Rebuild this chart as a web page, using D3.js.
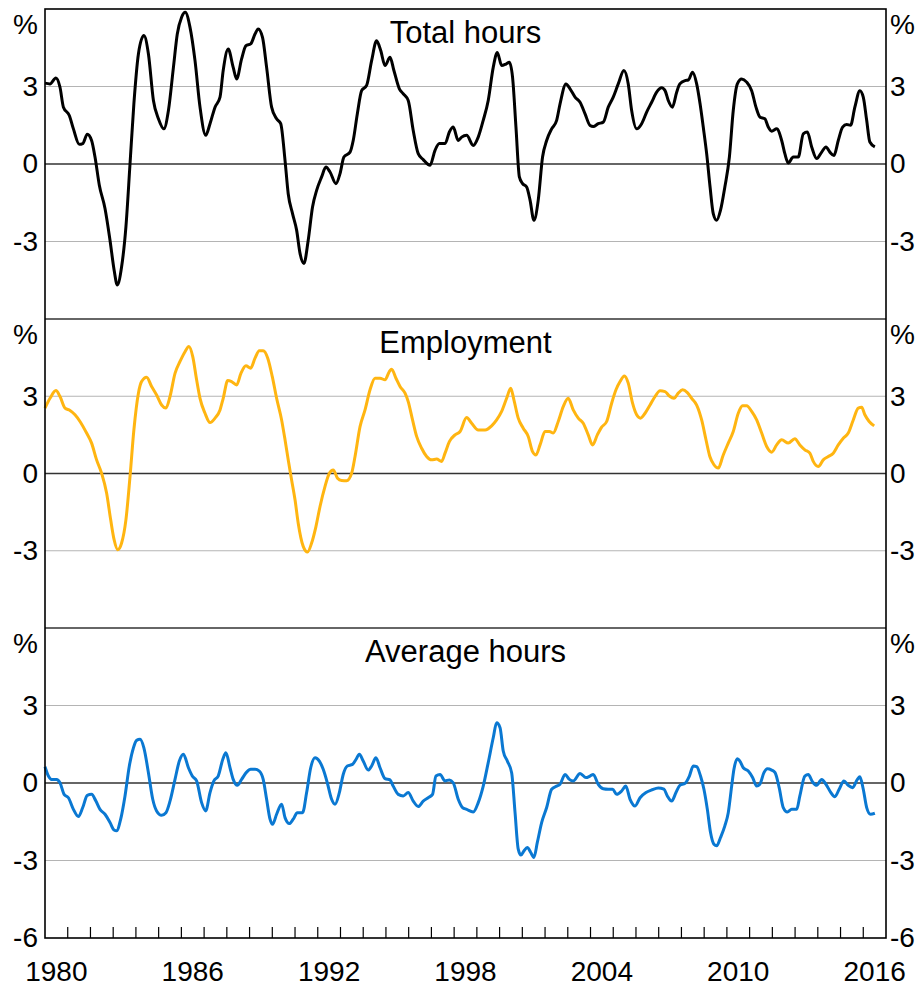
<!DOCTYPE html>
<html>
<head>
<meta charset="utf-8">
<script src="https://cdn.jsdelivr.net/npm/d3@7"></script>
<style>
  html, body { margin: 0; padding: 0; background: #fff; }
  svg { display: block; font-family: "Liberation Sans", Arial, sans-serif; }
</style>
</head>
<body>
<svg id="chart" width="922" height="987"></svg>
<script>
// Year-ended growth, per cent — [decimal year, value]
const totalHours = [
  [1980.00,3.13],[1980.22,3.10],[1980.48,3.33],[1980.66,2.97],[1980.81,2.20],[1981.07,1.88],[1981.25,1.36],
  [1981.51,0.76],[1981.66,0.79],[1981.86,1.15],[1982.05,0.91],[1982.20,0.27],[1982.39,-0.82],[1982.64,-1.72],
  [1982.86,-2.95],[1983.04,-4.10],[1983.18,-4.68],[1983.37,-3.98],[1983.56,-2.43],[1983.74,0.00],[1983.91,2.33],
  [1984.11,4.26],[1984.35,4.97],[1984.55,4.26],[1984.77,2.46],[1984.99,1.75],[1985.23,1.36],[1985.43,2.07],
  [1985.65,3.74],[1985.82,5.03],[1986.01,5.68],[1986.17,5.87],[1986.38,5.29],[1986.60,4.00],[1986.82,2.20],
  [1987.07,1.11],[1987.26,1.56],[1987.48,2.20],[1987.70,2.59],[1987.84,3.62],[1988.06,4.45],[1988.28,3.74],
  [1988.43,3.29],[1988.65,4.07],[1988.84,4.58],[1989.05,4.65],[1989.24,5.03],[1989.38,5.23],[1989.57,4.90],
  [1989.75,3.74],[1989.97,2.20],[1990.19,1.75],[1990.37,1.56],[1990.56,0.14],[1990.70,-1.15],[1990.89,-1.92],
  [1991.07,-2.56],[1991.22,-3.46],[1991.39,-3.85],[1991.58,-2.95],[1991.77,-1.66],[1991.95,-1.02],[1992.17,-0.50],
  [1992.36,-0.12],[1992.54,-0.31],[1992.80,-0.76],[1992.98,-0.37],[1993.15,0.27],[1993.42,0.46],[1993.56,0.91],
  [1993.74,1.94],[1993.93,2.84],[1994.15,3.04],[1994.37,4.00],[1994.59,4.77],[1994.77,4.39],[1994.96,3.81],
  [1995.18,4.13],[1995.35,3.62],[1995.59,2.91],[1995.76,2.72],[1995.98,2.46],[1996.20,1.30],[1996.42,0.40],
  [1996.64,0.17],[1996.94,-0.05],[1997.16,0.53],[1997.35,0.79],[1997.60,0.79],[1997.79,1.24],[1997.96,1.43],
  [1998.18,0.91],[1998.33,1.04],[1998.55,1.11],[1998.84,0.72],[1999.06,1.04],[1999.28,1.69],[1999.50,2.46],
  [1999.72,3.74],[1999.90,4.32],[2000.09,3.81],[2000.28,3.87],[2000.43,3.94],[2000.57,3.36],[2000.72,1.43],
  [2000.87,-0.50],[2001.01,-0.76],[2001.19,-0.89],[2001.34,-1.40],[2001.51,-2.18],[2001.70,-1.40],[2001.89,0.27],
  [2002.07,0.91],[2002.29,1.36],[2002.51,1.69],[2002.66,2.33],[2002.92,3.10],[2003.10,2.91],[2003.32,2.59],
  [2003.54,2.39],[2003.76,1.94],[2003.98,1.49],[2004.12,1.45],[2004.34,1.56],[2004.56,1.62],[2004.78,2.20],
  [2005.00,2.59],[2005.22,3.10],[2005.47,3.62],[2005.66,3.10],[2005.81,2.07],[2006.03,1.36],[2006.25,1.56],
  [2006.47,2.01],[2006.69,2.39],[2006.91,2.78],[2007.13,2.95],[2007.28,2.84],[2007.42,2.46],[2007.60,2.20],
  [2007.79,2.78],[2007.93,3.10],[2008.16,3.23],[2008.30,3.25],[2008.49,3.55],[2008.67,3.10],[2008.82,2.33],
  [2008.96,1.43],[2009.11,0.40],[2009.26,-0.89],[2009.40,-1.92],[2009.55,-2.18],[2009.72,-1.79],[2009.91,-0.89],
  [2010.11,0.27],[2010.28,2.07],[2010.46,3.10],[2010.65,3.29],[2010.87,3.17],[2011.09,2.84],[2011.28,2.20],
  [2011.46,1.81],[2011.67,1.75],[2011.82,1.43],[2011.97,1.27],[2012.19,1.36],[2012.41,0.91],[2012.55,0.40],
  [2012.70,0.04],[2012.92,0.27],[2013.14,0.27],[2013.36,1.17],[2013.54,1.24],[2013.73,0.66],[2013.95,0.21],
  [2014.17,0.46],[2014.36,0.66],[2014.53,0.46],[2014.71,0.33],[2014.90,0.91],[2015.09,1.43],[2015.27,1.53],
  [2015.44,1.50],[2015.63,2.20],[2015.85,2.84],[2016.00,2.59],[2016.15,1.69],[2016.29,0.85],[2016.51,0.66]
];

const employment = [
  [1980.00,2.54],[1980.22,2.92],[1980.48,3.22],[1980.66,2.99],[1980.88,2.54],[1981.10,2.45],[1981.32,2.28],
  [1981.54,2.02],[1981.83,1.57],[1982.05,1.18],[1982.27,0.53],[1982.49,0.01],[1982.71,-0.76],[1982.89,-1.80],
  [1983.04,-2.57],[1983.20,-2.96],[1983.37,-2.70],[1983.56,-1.80],[1983.74,-0.12],[1983.91,1.69],[1984.11,3.12],
  [1984.25,3.57],[1984.47,3.74],[1984.69,3.38],[1984.91,3.05],[1985.13,2.66],[1985.32,2.54],[1985.50,2.99],
  [1985.72,3.89],[1985.94,4.35],[1986.16,4.73],[1986.33,4.93],[1986.50,4.54],[1986.67,3.64],[1986.82,2.92],
  [1987.04,2.34],[1987.26,1.98],[1987.48,2.15],[1987.70,2.47],[1987.84,2.92],[1988.04,3.61],[1988.21,3.57],
  [1988.43,3.44],[1988.62,3.89],[1988.84,4.18],[1989.05,4.09],[1989.24,4.48],[1989.43,4.77],[1989.60,4.77],
  [1989.80,4.48],[1990.00,3.76],[1990.19,2.92],[1990.41,2.08],[1990.56,1.31],[1990.70,0.53],[1990.85,-0.25],
  [1991.00,-1.02],[1991.14,-1.93],[1991.36,-2.83],[1991.55,-3.05],[1991.73,-2.70],[1991.92,-2.06],[1992.10,-1.28],
  [1992.32,-0.50],[1992.51,0.01],[1992.68,0.14],[1992.87,-0.18],[1993.05,-0.27],[1993.27,-0.28],[1993.49,0.01],
  [1993.64,0.66],[1993.86,1.82],[1994.08,2.47],[1994.30,3.25],[1994.52,3.70],[1994.74,3.70],[1994.96,3.64],
  [1995.15,3.96],[1995.25,4.05],[1995.44,3.70],[1995.62,3.38],[1995.84,3.12],[1995.98,2.79],[1996.17,2.08],
  [1996.35,1.44],[1996.57,0.98],[1996.79,0.66],[1997.01,0.53],[1997.23,0.56],[1997.45,0.47],[1997.60,0.79],
  [1997.79,1.24],[1998.04,1.50],[1998.26,1.63],[1998.55,2.17],[1998.77,1.95],[1999.06,1.69],[1999.36,1.69],
  [1999.65,1.85],[1999.87,2.08],[2000.09,2.41],[2000.31,2.92],[2000.49,3.31],[2000.63,2.86],[2000.82,2.15],
  [2001.04,1.76],[2001.26,1.44],[2001.45,0.85],[2001.60,0.72],[2001.78,1.11],[2002.00,1.63],[2002.19,1.63],
  [2002.36,1.57],[2002.58,2.02],[2002.80,2.60],[2003.02,2.92],[2003.24,2.47],[2003.46,2.15],[2003.68,1.95],
  [2003.90,1.50],[2004.09,1.11],[2004.30,1.50],[2004.49,1.80],[2004.71,2.02],[2004.93,2.73],[2005.12,3.25],
  [2005.30,3.57],[2005.49,3.79],[2005.66,3.51],[2005.85,2.73],[2006.03,2.28],[2006.20,2.15],[2006.40,2.34],
  [2006.62,2.66],[2006.84,2.99],[2007.06,3.21],[2007.28,3.18],[2007.47,3.01],[2007.67,2.92],[2007.86,3.12],
  [2008.05,3.25],[2008.26,3.14],[2008.45,2.92],[2008.67,2.66],[2008.89,2.08],[2009.08,1.31],[2009.25,0.66],
  [2009.43,0.34],[2009.62,0.21],[2009.84,0.72],[2010.06,1.18],[2010.28,1.63],[2010.50,2.34],[2010.69,2.63],
  [2010.87,2.63],[2011.09,2.41],[2011.31,2.08],[2011.53,1.57],[2011.75,1.05],[2011.97,0.83],[2012.19,1.11],
  [2012.41,1.31],[2012.70,1.18],[2012.99,1.35],[2013.21,1.11],[2013.43,0.92],[2013.65,0.79],[2013.80,0.47],
  [2014.02,0.27],[2014.24,0.53],[2014.46,0.66],[2014.68,0.79],[2014.90,1.11],[2015.12,1.37],[2015.34,1.57],
  [2015.56,2.08],[2015.78,2.54],[2015.93,2.57],[2016.07,2.28],[2016.26,2.02],[2016.48,1.85]
];

const averageHours = [
  [1980.00,0.63],[1980.15,0.27],[1980.29,0.14],[1980.51,0.14],[1980.66,0.01],[1980.84,-0.44],[1981.03,-0.57],
  [1981.25,-1.02],[1981.47,-1.30],[1981.66,-0.95],[1981.86,-0.48],[1982.05,-0.44],[1982.24,-0.70],[1982.42,-1.02],
  [1982.64,-1.21],[1982.86,-1.53],[1983.04,-1.82],[1983.15,-1.85],[1983.33,-1.40],[1983.52,-0.50],[1983.71,0.66],
  [1983.89,1.36],[1984.03,1.65],[1984.18,1.69],[1984.35,1.36],[1984.55,0.40],[1984.74,-0.63],[1984.91,-1.08],
  [1985.13,-1.25],[1985.32,-1.15],[1985.50,-0.70],[1985.72,0.14],[1985.91,0.85],[1986.09,1.11],[1986.31,0.59],
  [1986.48,0.27],[1986.67,0.08],[1986.89,-0.76],[1987.07,-1.08],[1987.26,-0.37],[1987.43,0.08],[1987.62,0.27],
  [1987.82,0.91],[1987.96,1.17],[1988.14,0.59],[1988.28,0.14],[1988.46,-0.09],[1988.65,0.14],[1988.87,0.42],
  [1989.05,0.53],[1989.24,0.53],[1989.43,0.46],[1989.60,0.14],[1989.75,-0.63],[1989.90,-1.40],[1990.01,-1.60],
  [1990.19,-1.21],[1990.41,-0.82],[1990.56,-1.34],[1990.75,-1.57],[1990.92,-1.40],[1991.10,-1.15],[1991.33,-1.15],
  [1991.51,-0.37],[1991.69,0.59],[1991.88,0.98],[1992.07,0.85],[1992.24,0.53],[1992.42,0.01],[1992.61,-0.63],
  [1992.76,-0.82],[1992.95,-0.37],[1993.12,0.33],[1993.30,0.66],[1993.53,0.72],[1993.68,0.91],[1993.83,1.11],
  [1994.00,0.85],[1994.22,0.50],[1994.37,0.66],[1994.56,0.98],[1994.74,0.59],[1994.96,0.17],[1995.18,0.12],
  [1995.32,-0.12],[1995.54,-0.44],[1995.76,-0.50],[1995.98,-0.37],[1996.20,-0.70],[1996.42,-0.91],[1996.64,-0.70],
  [1996.86,-0.57],[1997.05,-0.44],[1997.20,0.27],[1997.38,0.33],[1997.60,0.08],[1997.79,0.12],[1997.96,0.01],
  [1998.18,-0.63],[1998.37,-0.95],[1998.55,-1.02],[1998.84,-1.12],[1999.06,-0.76],[1999.28,-0.12],[1999.50,0.79],
  [1999.72,1.75],[1999.87,2.33],[2000.02,2.14],[2000.16,1.24],[2000.34,0.85],[2000.53,0.40],[2000.68,-1.15],
  [2000.82,-2.56],[2000.94,-2.79],[2001.07,-2.63],[2001.22,-2.50],[2001.37,-2.69],[2001.51,-2.88],[2001.66,-2.30],
  [2001.85,-1.53],[2002.07,-0.95],[2002.29,-0.24],[2002.51,-0.12],[2002.66,-0.05],[2002.88,0.33],[2003.07,0.14],
  [2003.24,0.08],[2003.54,0.37],[2003.80,0.21],[2003.98,0.27],[2004.12,0.33],[2004.34,-0.05],[2004.56,-0.22],
  [2004.78,-0.24],[2004.97,-0.24],[2005.15,-0.44],[2005.37,-0.31],[2005.55,-0.12],[2005.74,-0.63],[2005.96,-0.89],
  [2006.18,-0.57],[2006.44,-0.37],[2006.69,-0.27],[2006.98,-0.19],[2007.23,-0.24],[2007.38,-0.50],[2007.57,-0.70],
  [2007.76,-0.37],[2007.93,-0.09],[2008.16,-0.01],[2008.35,0.27],[2008.52,0.66],[2008.67,0.63],[2008.84,0.27],
  [2008.99,-0.24],[2009.14,-1.02],[2009.28,-1.92],[2009.43,-2.37],[2009.55,-2.43],[2009.72,-2.11],[2009.91,-1.66],
  [2010.06,-1.15],[2010.21,-0.12],[2010.31,0.53],[2010.46,0.94],[2010.57,0.85],[2010.72,0.59],[2010.94,0.46],
  [2011.13,0.21],[2011.31,-0.12],[2011.45,-0.05],[2011.63,0.40],[2011.78,0.55],[2011.97,0.50],[2012.12,0.40],
  [2012.30,-0.18],[2012.48,-0.95],[2012.66,-1.12],[2012.85,-1.02],[2013.07,-1.02],[2013.21,-0.50],[2013.43,0.27],
  [2013.58,0.33],[2013.77,0.04],[2013.95,-0.09],[2014.17,0.14],[2014.36,-0.05],[2014.56,-0.35],[2014.75,-0.53],
  [2014.94,-0.24],[2015.15,0.08],[2015.34,-0.09],[2015.53,-0.18],[2015.74,0.14],[2015.85,0.24],[2016.00,-0.24],
  [2016.15,-0.95],[2016.32,-1.21],[2016.51,-1.17]
];

const panelTitles = ["Total hours", "Employment", "Average hours"];
const panelColours = ["#000000", "#FFB511", "#0A78D2"];
const yTicks = [[3, 0, -3], [3, 0, -3], [3, 0, -3, -6]];
const xTickLabels = [1980, 1986, 1992, 1998, 2004, 2010, 2016];
const series = [totalHours, employment, averageHours];

const svg = d3.select("#chart");
const left = 45, right = 886;
const panelEdges = [9, 319, 628, 938];
const fontSize = 28;
// plain hyphen for negatives
const fmt = d => String(d);

const x = d3.scaleLinear().domain([1980, 2017]).range([left, right]);

panelEdges.slice(0, 3).forEach((top, i) => {
  const bottom = panelEdges[i + 1];
  const y = d3.scaleLinear().domain([-6, 6]).range([bottom, top]);
  const g = svg.append("g");

  // horizontal gridlines at ±3
  g.selectAll("line.grid").data([3, -3]).join("line")
    .attr("x1", left).attr("x2", right)
    .attr("y1", d => y(d)).attr("y2", d => y(d))
    .attr("stroke", "#b4b4b4").attr("stroke-width", 1.2);

  // zero line
  g.append("line")
    .attr("x1", left).attr("x2", right)
    .attr("y1", y(0)).attr("y2", y(0))
    .attr("stroke", "#333").attr("stroke-width", 1.6);

  // series line
  const line = d3.line()
    .x(d => x(d[0])).y(d => y(d[1]))
    .curve(d3.curveMonotoneX);
  g.append("path")
    .datum(series[i])
    .attr("fill", "none")
    .attr("stroke", panelColours[i])
    .attr("stroke-width", 3)
    .attr("stroke-linejoin", "round")
    .attr("d", line);

  // panel title
  g.append("text")
    .attr("x", (left + right) / 2).attr("y", top + 34)
    .attr("text-anchor", "middle")
    .attr("font-size", 31)
    .text(panelTitles[i]);

  // y tick labels on both sides
  const yAxisL = d3.axisLeft(y).tickValues(yTicks[i]).tickSize(0).tickPadding(7).tickFormat(fmt);
  const yAxisR = d3.axisRight(y).tickValues(yTicks[i]).tickSize(0).tickPadding(4).tickFormat(fmt);
  [[yAxisL, left], [yAxisR, right]].forEach(([ax, xp]) => {
    const a = g.append("g").attr("transform", `translate(${xp},0)`).call(ax);
    a.select(".domain").remove();
    a.selectAll("text").attr("font-size", fontSize).attr("font-family", null).attr("fill", "#000");
  });

  // unit labels
  g.append("text").attr("x", left - 7).attr("y", top + 15).attr("dy", "0.35em")
    .attr("text-anchor", "end").attr("font-size", fontSize).text("%");
  g.append("text").attr("x", right + 4).attr("y", top + 15).attr("dy", "0.35em")
    .attr("text-anchor", "start").attr("font-size", fontSize).text("%");
});

// panel separators
svg.selectAll("line.sep").data(panelEdges.slice(1, 3)).join("line")
  .attr("x1", left).attr("x2", right)
  .attr("y1", d => d).attr("y2", d => d)
  .attr("stroke", "#333").attr("stroke-width", 1.6);

// year ticks along the bottom axis
const bottomY = panelEdges[3];
const yearTicks = d3.range(1981, 2017);
svg.selectAll("line.xtick").data(yearTicks).join("line")
  .attr("x1", d => x(d)).attr("x2", d => x(d))
  .attr("y1", bottomY).attr("y2", bottomY - 11)
  .attr("stroke", "#000").attr("stroke-width", 1.2);

// x labels centred within each year
svg.selectAll("text.xlab").data(xTickLabels).join("text")
  .attr("x", d => x(d + 0.5)).attr("y", 981)
  .attr("text-anchor", "middle").attr("font-size", fontSize)
  .text(d => d);

// outer frame
svg.append("rect")
  .attr("x", left).attr("y", panelEdges[0])
  .attr("width", right - left).attr("height", bottomY - panelEdges[0])
  .attr("fill", "none").attr("stroke", "#000").attr("stroke-width", 1.6);
</script>
</body>
</html>
